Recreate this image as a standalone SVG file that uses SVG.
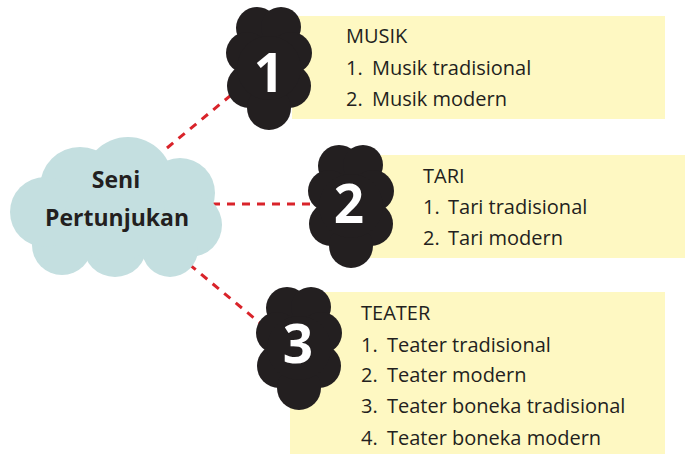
<svg xmlns="http://www.w3.org/2000/svg" xmlns:xlink="http://www.w3.org/1999/xlink" width="685" height="454" viewBox="0 0 685 454">
<style>
.box{fill:#fef8c2}
.blob{fill:#231f20}
.num{font-family:"Open Sans","Liberation Sans",sans-serif;font-weight:bold;font-size:53px;fill:#ffffff;text-anchor:middle}
.t{font-family:"Open Sans","Liberation Sans",sans-serif;font-size:20px;fill:#231f20}
.hub{font-family:"Open Sans","Liberation Sans",sans-serif;font-weight:bold;font-size:23px;fill:#231f20;text-anchor:middle}
.conn{stroke:#d9232a;stroke-width:3;stroke-dasharray:8 7;fill:none}
</style>
<defs>
<g id="blobshape" class="blob">
<circle cx="-12" cy="-40" r="21"/>
<circle cx="12" cy="-41" r="20"/>
<circle cx="-22" cy="-15" r="21"/>
<circle cx="22" cy="-15" r="21"/>
<circle cx="-20" cy="18" r="22"/>
<circle cx="20" cy="18" r="22"/>
<circle cx="0" cy="40" r="22"/>
<circle cx="0" cy="0" r="32"/>
</g>
</defs>
<g id="connectors">
<line class="conn" x1="167" y1="148" x2="236" y2="91"/>
<line class="conn" x1="212" y1="204" x2="310" y2="204"/>
<line class="conn" x1="178" y1="255" x2="260" y2="323"/>
</g>
<g id="node-seni-pertunjukan" fill="#c4dfe0">
<circle cx="80" cy="187" r="40"/>
<circle cx="128" cy="182" r="45"/>
<circle cx="180" cy="193" r="35"/>
<circle cx="190" cy="225" r="32"/>
<circle cx="170" cy="249" r="28"/>
<circle cx="115" cy="245" r="32"/>
<circle cx="62" cy="245" r="30"/>
<circle cx="45" cy="212" r="35"/>
<circle cx="115" cy="212" r="50"/>
<text class="hub" x="116" y="188">Seni</text>
<text class="hub" x="117" y="226">Pertunjukan</text>
</g>
<g id="node-musik">
<rect class="box" x="292" y="16" width="373" height="103"/>
<use xlink:href="#blobshape" href="#blobshape" x="269" y="68"/>
<text class="num" x="269" y="92">1</text>
<text class="t" x="346" y="43">MUSIK</text>
<text class="t" x="346" y="75">1.</text><text class="t" x="372" y="75">Musik tradisional</text>
<text class="t" x="346" y="106">2.</text><text class="t" x="372" y="106">Musik modern</text>
</g>
<g id="node-tari">
<rect class="box" x="370" y="155" width="315" height="103"/>
<use xlink:href="#blobshape" href="#blobshape" x="351" y="206"/>
<text class="num" x="349" y="223">2</text>
<text class="t" x="423" y="183">TARI</text>
<text class="t" x="423" y="214">1.</text><text class="t" x="448" y="214">Tari tradisional</text>
<text class="t" x="423" y="245">2.</text><text class="t" x="448" y="245">Tari modern</text>
</g>
<g id="node-teater">
<rect class="box" x="290" y="292" width="375" height="162"/>
<use xlink:href="#blobshape" href="#blobshape" x="299" y="348"/>
<text class="num" x="298" y="363">3</text>
<text class="t" x="361" y="320">TEATER</text>
<text class="t" x="361" y="352">1.</text><text class="t" x="387" y="352">Teater tradisional</text>
<text class="t" x="361" y="382">2.</text><text class="t" x="387" y="382">Teater modern</text>
<text class="t" x="361" y="413">3.</text><text class="t" x="387" y="413">Teater boneka tradisional</text>
<text class="t" x="361" y="445">4.</text><text class="t" x="387" y="445">Teater boneka modern</text>
</g>
</svg>
